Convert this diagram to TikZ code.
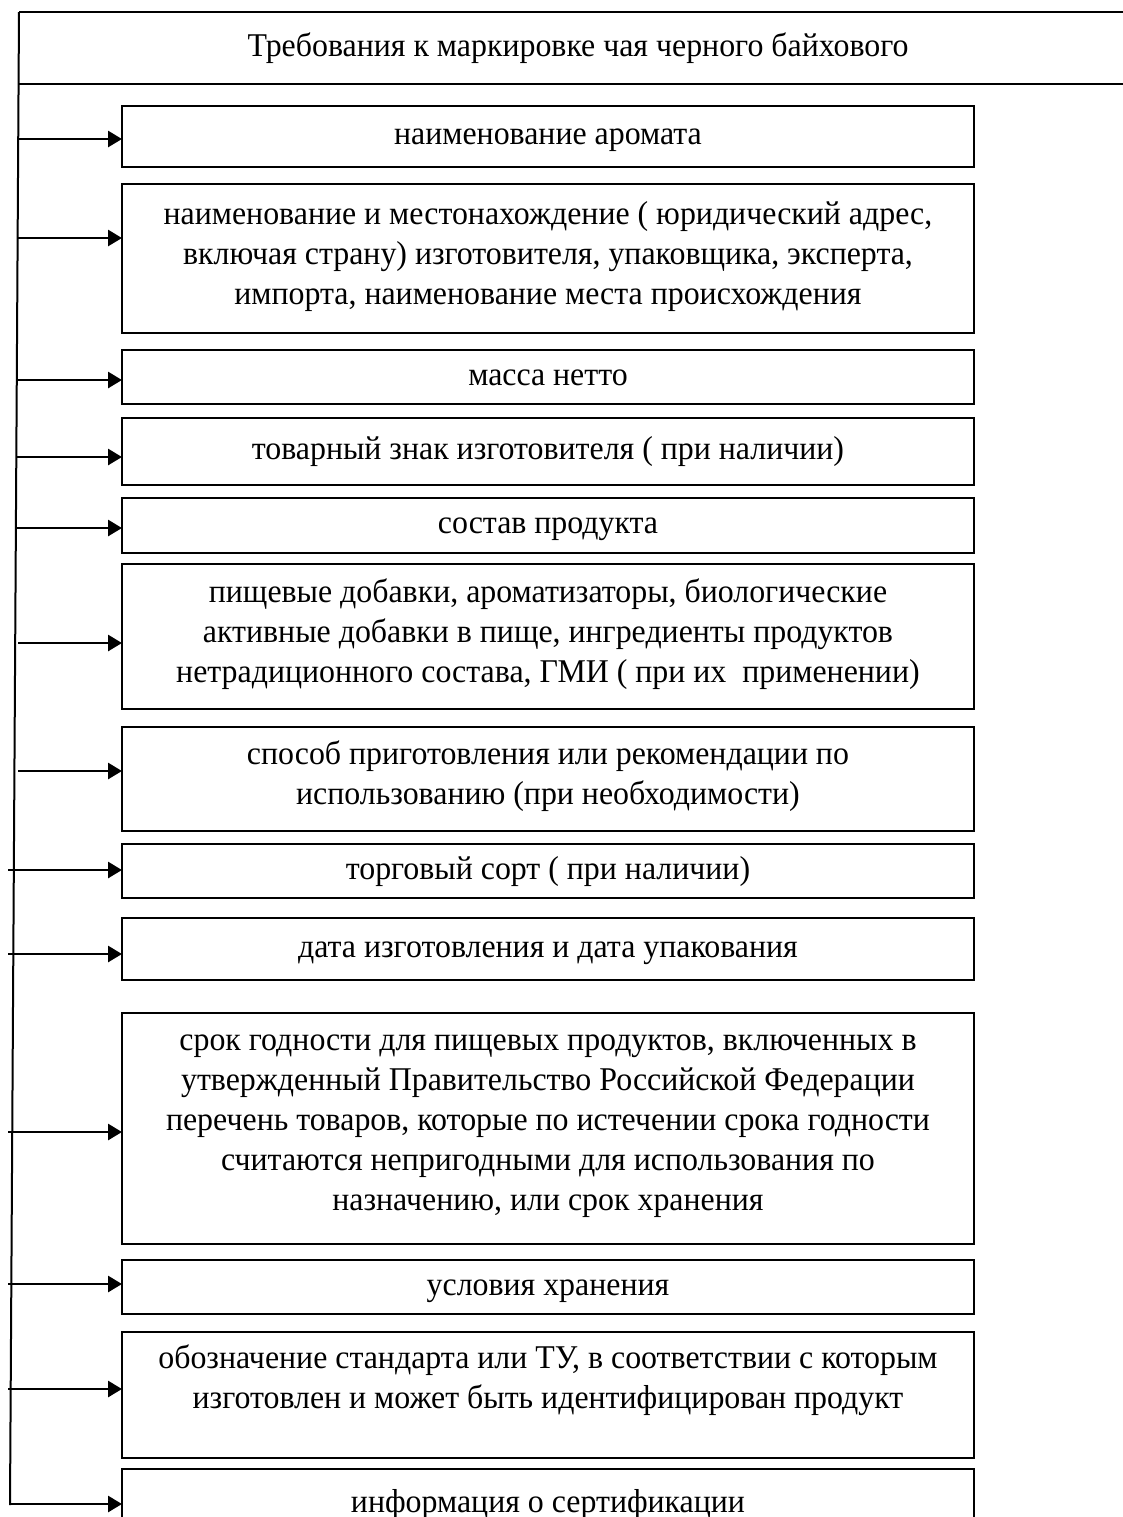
\documentclass[tikz,border=0pt]{standalone}
\usepackage{fontspec}
\setmainfont[FakeStretch=0.96]{Liberation Serif}
\usetikzlibrary{arrows.meta}
\begin{document}
\begin{tikzpicture}[x=0.5pt,y=-0.5pt,
  txt/.style={font=\fontsize{16.6pt}{20pt}\selectfont, align=center,
    execute at begin node=\strut, execute at end node=\strut},
  box/.style={draw, line width=1pt, rectangle, anchor=north west, outer sep=0pt, inner sep=1pt,
    minimum width=426pt, txt},
  frame/.style={line width=1pt},
  arr/.style={line width=1.4pt, -{Triangle[length=7pt,width=8pt]}},
]
\useasboundingbox (0,0) rectangle (1123,1517);
\fill[white] (0,0) rectangle (1123,1517);

% title
\node[txt, anchor=north west, outer sep=0pt, inner sep=0pt, minimum width=559pt, minimum height=36pt] (title) at (19,12)
  {Требования к маркировке чая черного байхового};
\draw[frame] (title.north west) -- (title.north east);
\draw[frame] (title.south west) -- (title.south east);
\coordinate (vend) at (10,1505);
\draw[frame] (title.north west) -- (vend);

% boxes
\node[box, minimum height=30.5pt] (b1) at (122,106) {наименование аромата};
\node[box, minimum height=74.5pt] (b2) at (122,184) {наименование и местонахождение ( юридический адрес,\\ включая страну) изготовителя, упаковщика, эксперта,\\ импорта, наименование места происхождения};
\node[box, minimum height=27pt] (b3) at (122,350) {масса нетто};
\node[box, minimum height=33.5pt] (b4) at (122,418) {товарный знак изготовителя ( при наличии)};
\node[box, minimum height=27.5pt] (b5) at (122,498) {состав продукта};
\node[box, minimum height=72.5pt] (b6) at (122,564) {пищевые добавки, ароматизаторы, биологические\\ активные добавки в пище, ингредиенты продуктов\\ нетрадиционного состава, ГМИ ( при их~~применении)};
\node[box, minimum height=52pt] (b7) at (122,727) {способ приготовления или рекомендации по\\ использованию (при необходимости)};
\node[box, minimum height=27pt] (b8) at (122,844) {торговый сорт ( при наличии)};
\node[box, minimum height=31pt] (b9) at (122,918) {дата изготовления и дата упакования};
\node[box, minimum height=115.5pt] (b10) at (122,1013) {срок годности для пищевых продуктов, включенных в\\ утвержденный Правительство Российской Федерации\\ перечень товаров, которые по истечении срока годности\\ считаются непригодными для использования по\\ назначению, или срок хранения};
\node[box, minimum height=27pt] (b11) at (122,1260) {условия хранения};
\node[box, minimum height=63pt] (b12) at (122,1332) {};
\node[txt, inner sep=0pt] (t12) at ([yshift=6pt]b12.center) {обозначение стандарта или ТУ, в соответствии с которым\\ изготовлен и может быть идентифицирован продукт};
\node[box, minimum height=35.5pt] (b13) at (122,1469) {информация о сертификации};

% arrow starts
\coordinate (s1) at (18,139);
\coordinate (s2) at (18,238);
\coordinate (s3) at (17,380);
\coordinate (s4) at (16,457);
\coordinate (s5) at (16,528);
\coordinate (s6) at (18,643);
\coordinate (s7) at (18,771);
\coordinate (s8) at (8,870);
\coordinate (s9) at (8,954);
\coordinate (s10) at (8,1132);
\coordinate (s11) at (8,1284);
\coordinate (s12) at (8,1389);
\coordinate (s13) at (9,1504);

\foreach \i in {1,...,13} {
  \draw[arr] (s\i) -- (s\i -| b\i.west);
}
\end{tikzpicture}
\end{document}
